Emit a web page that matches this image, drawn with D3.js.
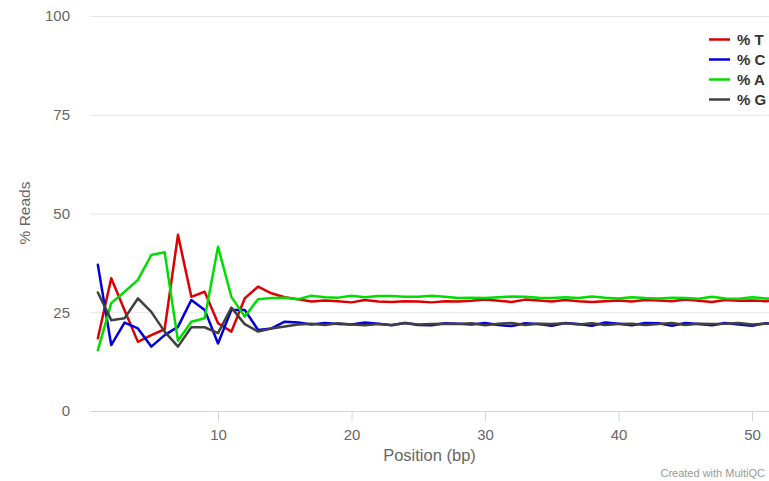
<!DOCTYPE html>
<html><head><meta charset="utf-8">
<script src="https://cdn.jsdelivr.net/npm/d3@7"></script>
<style>
html,body{margin:0;padding:0;background:#fff;}
svg{display:block;font-family:"Liberation Sans",Arial,sans-serif;}
</style></head>
<body><svg id="c" width="769" height="481"></svg>
<script>
const positions = d3.range(1, 53);
const seriesNames = ["% T", "% C", "% A", "% G"];
const seriesColors = ["#dd0000", "#0000dd", "#00dd00", "#404040"];
const pctT = [18.4, 33.6, 25.5, 17.5, 19.2, 20.7, 44.6, 28.9, 30.2, 22.2, 20.1, 28.5, 31.5, 29.8, 28.8, 28.3, 27.7, 28.0, 27.8, 27.5, 28.1, 27.7, 27.6, 27.8, 27.7, 27.5, 27.8, 27.7, 27.9, 28.2, 27.9, 27.6, 28.2, 28.0, 27.7, 28.1, 27.8, 27.6, 27.8, 28.0, 27.7, 28.1, 28.0, 27.8, 28.2, 27.9, 27.6, 28.1, 27.9, 28.0, 27.8, 27.9];
const pctC = [37.0, 16.7, 22.4, 20.9, 16.3, 19.2, 21.3, 28.1, 25.6, 17.1, 25.6, 25.6, 20.5, 20.9, 22.6, 22.4, 21.9, 22.3, 22.0, 21.9, 22.4, 22.1, 21.7, 22.3, 21.8, 21.7, 22.2, 22.1, 21.9, 22.3, 21.8, 21.5, 22.2, 22.0, 21.6, 22.3, 22.0, 21.6, 22.4, 22.1, 21.7, 22.3, 22.2, 21.6, 22.3, 22.0, 21.7, 22.3, 21.9, 21.6, 22.2, 22.0];
const pctA = [15.4, 27.3, 30.2, 33.2, 39.5, 40.2, 17.8, 22.6, 23.5, 41.6, 28.9, 23.9, 28.3, 28.6, 28.7, 28.3, 29.2, 28.8, 28.7, 29.2, 28.8, 29.1, 29.1, 28.9, 28.9, 29.2, 28.9, 28.6, 28.7, 28.6, 28.8, 29.0, 28.9, 28.7, 28.6, 28.8, 28.6, 29.0, 28.7, 28.5, 28.8, 28.6, 28.5, 28.7, 28.6, 28.4, 28.9, 28.5, 28.4, 28.8, 28.5, 28.4];
const pctG = [30.0, 23.0, 23.5, 28.5, 25.1, 20.1, 16.3, 21.2, 21.2, 19.7, 26.2, 22.0, 20.1, 20.9, 21.4, 21.9, 22.1, 21.8, 22.2, 21.9, 21.7, 22.0, 21.8, 22.3, 21.9, 22.0, 22.1, 22.0, 22.2, 21.7, 22.1, 22.3, 21.8, 22.1, 22.0, 22.2, 21.9, 22.2, 21.8, 22.0, 22.1, 21.8, 22.0, 22.3, 21.8, 22.1, 22.0, 22.1, 22.3, 21.9, 22.1, 22.2];
const yTicks = [0, 25, 50, 75, 100];
const xTicks = [10, 20, 30, 40, 50];

const series = [pctT, pctC, pctA, pctG];
const svg = d3.select("#c");
const L = 90, R = 769, T = 16, B = 411;
const x = d3.scaleLinear().domain([0.41, 51.27]).range([L, R]);
const y = d3.scaleLinear().domain([0, 100]).range([B, T]);

// grid
svg.append("g").selectAll("line").data(yTicks.filter(d => d > 0)).join("line")
  .attr("x1", L).attr("x2", R).attr("y1", d => y(d) + 0.5).attr("y2", d => y(d) + 0.5)
  .attr("stroke", "#e6e6e6").attr("stroke-width", 1);

// y labels
svg.append("g").selectAll("text").data(yTicks).join("text")
  .attr("x", 70).attr("y", d => y(d)).attr("dy", "0.36em")
  .attr("text-anchor", "end").attr("fill", "#666").attr("font-size", 15)
  .text(d => d);

// x axis
const xa = svg.append("g").attr("transform", `translate(0,${B + 0.5})`)
  .call(d3.axisBottom(x).tickValues(xTicks).tickSize(10).tickPadding(8));
xa.select(".domain").attr("stroke", "#ccd6eb").attr("d", `M${L},0H${R}`);
xa.selectAll(".tick line").attr("stroke", "#ccd6eb");
xa.selectAll(".tick text").attr("fill", "#666").attr("font-size", 15)
  .attr("font-family", "Liberation Sans, Arial, sans-serif");

// titles
svg.append("text").attr("x", (L + R) / 2).attr("y", 461).attr("text-anchor", "middle")
  .attr("fill", "#666").attr("font-size", 16.5).text("Position (bp)");
svg.append("text").attr("transform", "translate(30,213) rotate(-90)").attr("text-anchor", "middle")
  .attr("fill", "#666").attr("font-size", 15.5).text("% Reads");
svg.append("text").attr("x", 765).attr("y", 477).attr("text-anchor", "end")
  .attr("fill", "#999").attr("font-size", 11).text("Created with MultiQC");

// lines
svg.append("clipPath").attr("id", "clip").append("rect")
  .attr("x", L).attr("y", 0).attr("width", R - L).attr("height", B + 5);
const line = d3.line().x((d, i) => x(positions[i])).y(d => y(d));
svg.append("g").attr("clip-path", "url(#clip)").selectAll("path").data(series).join("path")
  .attr("d", line).attr("fill", "none")
  .attr("stroke", (d, i) => seriesColors[i]).attr("stroke-width", 2.5)
  .attr("stroke-linejoin", "round").attr("stroke-linecap", "round");

// legend
const lg = svg.append("g").selectAll("g").data(seriesNames).join("g")
  .attr("transform", (d, i) => `translate(0,${39.5 + i * 20})`);
lg.append("line").attr("x1", 709).attr("x2", 730).attr("y1", 0).attr("y2", 0)
  .attr("stroke", (d, i) => seriesColors[i]).attr("stroke-width", 2.5);
lg.append("text").attr("x", 737).attr("y", 0).attr("dy", "0.36em")
  .attr("font-size", 15).attr("font-weight", "bold").attr("fill", "#333").text(d => d);
</script></body></html>
